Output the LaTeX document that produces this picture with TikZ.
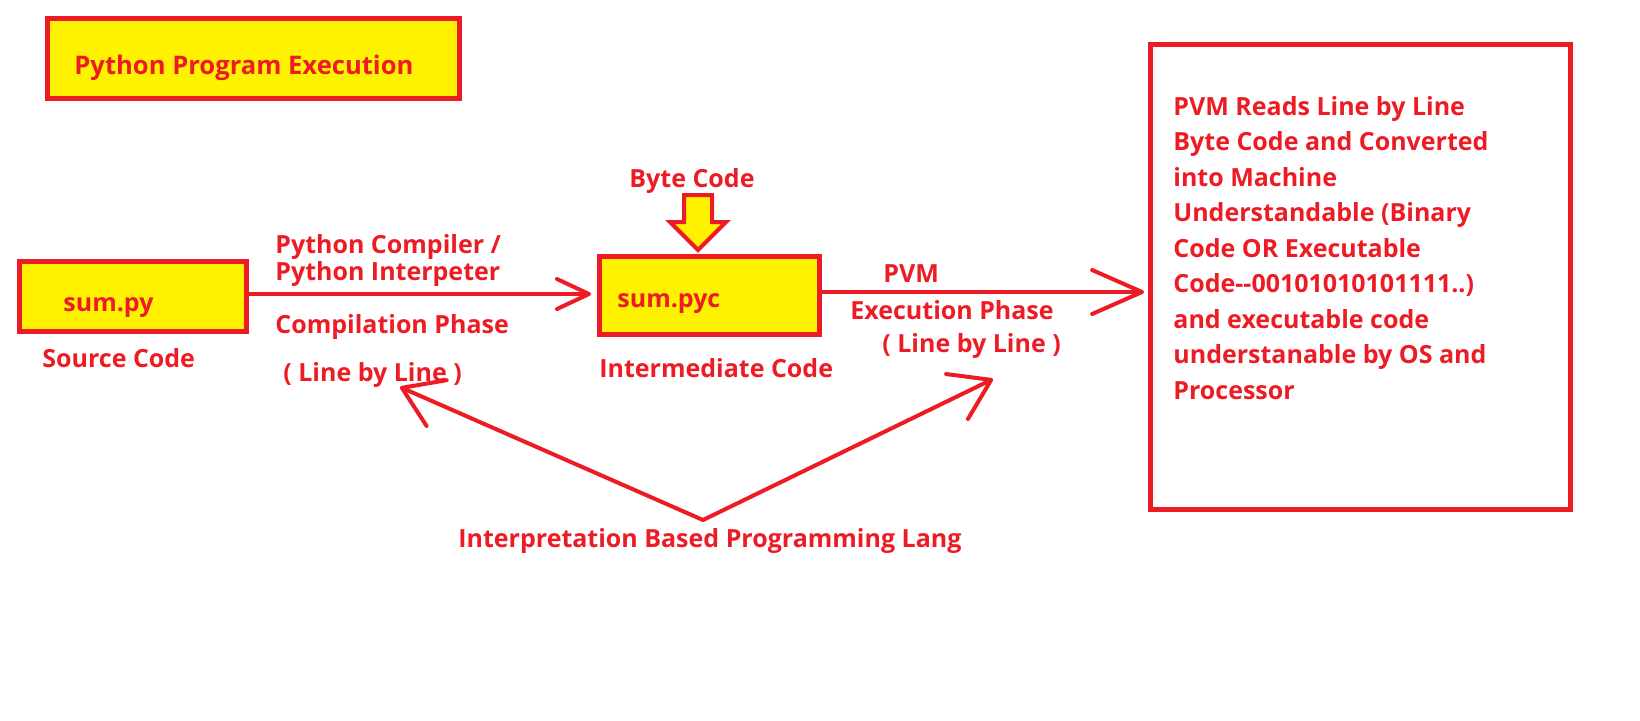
\documentclass[tikz,border=0pt]{standalone}
\usepackage{fontspec}
\setmainfont{Open Sans}
\usetikzlibrary{arrows.meta,positioning}
\definecolor{pred}{HTML}{ED1C24}
\definecolor{pyellow}{HTML}{FFF200}

\begin{document}
\begin{tikzpicture}[x=0.5pt,y=-0.5pt,
	txt/.style={text=pred,font=\fontsize{12.5pt}{17.75pt}\selectfont\bfseries,inner sep=0pt,text height=9pt,text depth=0pt,anchor=west},
	note/.style={text=pred,font=\fontsize{12.5pt}{17.75pt}\selectfont\bfseries,inner sep=0pt,align=left,anchor=base west},
	ybox/.style={draw=pred,fill=pyellow,line width=2.5pt,inner sep=0pt},
	pen/.style={draw=pred,line width=2pt,line cap=round,line join=round},
	smallbarb/.style={-{Straight Barb[round,length=16pt,width=15pt]}},
	longbarb/.style={-{Straight Barb[round,length=25pt,width=22pt]}},
	widebarb/.style={-{Straight Barb[round,length=19pt,width=25pt]}}]
	\useasboundingbox (0,0) rectangle (1640,720);

	\node[ybox,minimum width=206pt,minimum height=40pt] (titlebox) at (253.5,58.5) {};
	\node[txt,font=\fontsize{12.8pt}{16pt}\selectfont\bfseries,text height=9.2pt] (title) at (74,65) {Python Program Execution};

	\node[ybox,minimum width=113.5pt,minimum height=35pt] (sumpy) at (133,296.5) {};
	\node[txt] (sumpytxt) at (63,302) {sum.py};
	\node[txt] (source) at (42,358) {Source Code};

	\node[ybox,minimum width=110pt,minimum height=39pt] (sumpyc) at (709.5,295.5) {};
	\node[txt] (sumpyctxt) at (617,298) {sum.pyc};
	\node[txt] (inter) at (599,368) {Intermediate Code};
	\node[txt] (byte) at (629,178) {Byte Code};
	\draw[draw=pred,fill=pyellow,line width=2pt] (684,195) -- (712,195) -- (712,222) -- (726,222) -- (698,250) -- (670,222) -- (684,222) -- cycle;

	\node[draw=pred,line width=2.4pt,minimum width=210pt,minimum height=232.5pt] (pvmbox) at (1360.5,277) {};
	\node[note] (pvmtxt) at (1173,399) {PVM Reads Line by Line\\Byte Code and Converted\\into Machine\\Understandable (Binary\\Code OR Executable\\Code\mbox{-}\mbox{-}00101010101111..)\\and executable code\\understanable by OS and\\Processor};

	\node[txt] (comp1) at (275,244) {Python Compiler /};
	\node[txt] (comp2) at (275,271) {Python Interpeter};
	\node[txt] (compph) at (275,324) {Compilation Phase};
	\node[txt] (lbl1) at (283,372) {( Line by Line )};

	\node[txt] (pvm) at (883,273) {PVM};
	\node[txt] (execph) at (850,310) {Execution Phase};
	\node[txt] (lbl2) at (882,343) {( Line by Line )};

	\node[txt] (interp) at (458,538) {Interpretation Based Programming Lang};

	\draw[pen,smallbarb,shorten >=3pt] ([yshift=1.25pt]sumpy.east) -- ([yshift=1.25pt]sumpy.east -| sumpyc.west);
	\draw[pen,longbarb,shorten >=2pt] ([yshift=1.75pt]sumpyc.east) -- ([yshift=1.75pt]sumpyc.east -| pvmbox.west);

	\coordinate (vtx) at (703,520);
	\coordinate (ltip) at (400,387);
	\coordinate (rtip) at (993,379);
	\draw[pen,widebarb] (vtx) -- (ltip);
	\draw[pen,widebarb] (vtx) -- (rtip);
\end{tikzpicture}
\end{document}
